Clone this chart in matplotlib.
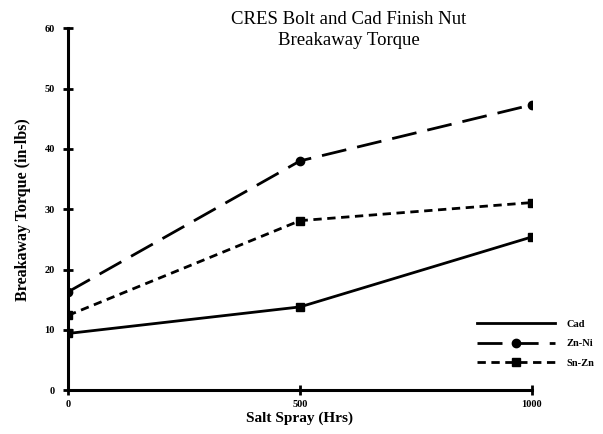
import matplotlib
matplotlib.use("Agg")
import matplotlib.pyplot as plt

hours = [0, 500, 1000]
cad = [9.4, 13.8, 25.4]
znni = [16.3, 38.0, 47.3]
snzn = [12.4, 28.1, 31.1]
series_names = ["Cad", "Zn-Ni", "Sn-Zn"]
xticks = [0, 500, 1000]
yticks = [0, 10, 20, 30, 40, 50, 60]

fig = plt.figure(figsize=(6.03, 4.34), dpi=100)
ax = fig.add_axes([0.113, 0.101, 0.769, 0.834])

lw = 2.0
ax.plot(hours, cad, color="black", lw=lw, ls="-", marker="s", ms=6, label=series_names[0])
ax.plot(hours, znni, color="black", lw=lw, ls=(0, (9, 4)), marker="o", ms=6, label=series_names[1])
ax.plot(hours, snzn, color="black", lw=lw, ls=(0, (3, 2)), marker="s", ms=6, label=series_names[2])

ax.set_xlim(0, 1000)
ax.set_ylim(0, 60)
ax.set_xticks(xticks)
ax.set_yticks(yticks)
for s in ["top", "right"]:
    ax.spines[s].set_visible(False)
for s in ["left", "bottom"]:
    ax.spines[s].set_linewidth(2.2)
ax.tick_params(axis="both", direction="inout", length=7, width=2, labelsize=7.5)
ax.tick_params(axis="y", pad=6)
for lab in ax.get_xticklabels() + ax.get_yticklabels():
    lab.set_fontweight("bold")
    lab.set_family("Liberation Serif")
ax.set_xlabel("Salt Spray (Hrs)", fontsize=11, fontweight="bold", family="Liberation Serif", labelpad=2)
ax.set_ylabel("Breakaway Torque (in-lbs)", fontsize=11.5, fontweight="bold", family="Liberation Serif", labelpad=10)

fig.text(0.578, 0.974, "CRES Bolt and Cad Finish Nut\nBreakaway Torque", ha="center", va="top",
         fontsize=13.5, family="Liberation Serif", linespacing=1.25)

# legend
h = ax.get_lines()
leg = ax.legend(handles=[h[0], h[1], h[2]], labels=series_names, loc="lower right",
                bbox_to_anchor=(1.155, 0.035), frameon=False,
                handlelength=7.5, labelspacing=1.0, handletextpad=1.1, numpoints=1,
                prop={"family": "Liberation Serif", "weight": "bold", "size": 7.5})
leg.legend_handles[0].set_marker("")

fig.savefig("out.png", dpi=100, facecolor="white")
